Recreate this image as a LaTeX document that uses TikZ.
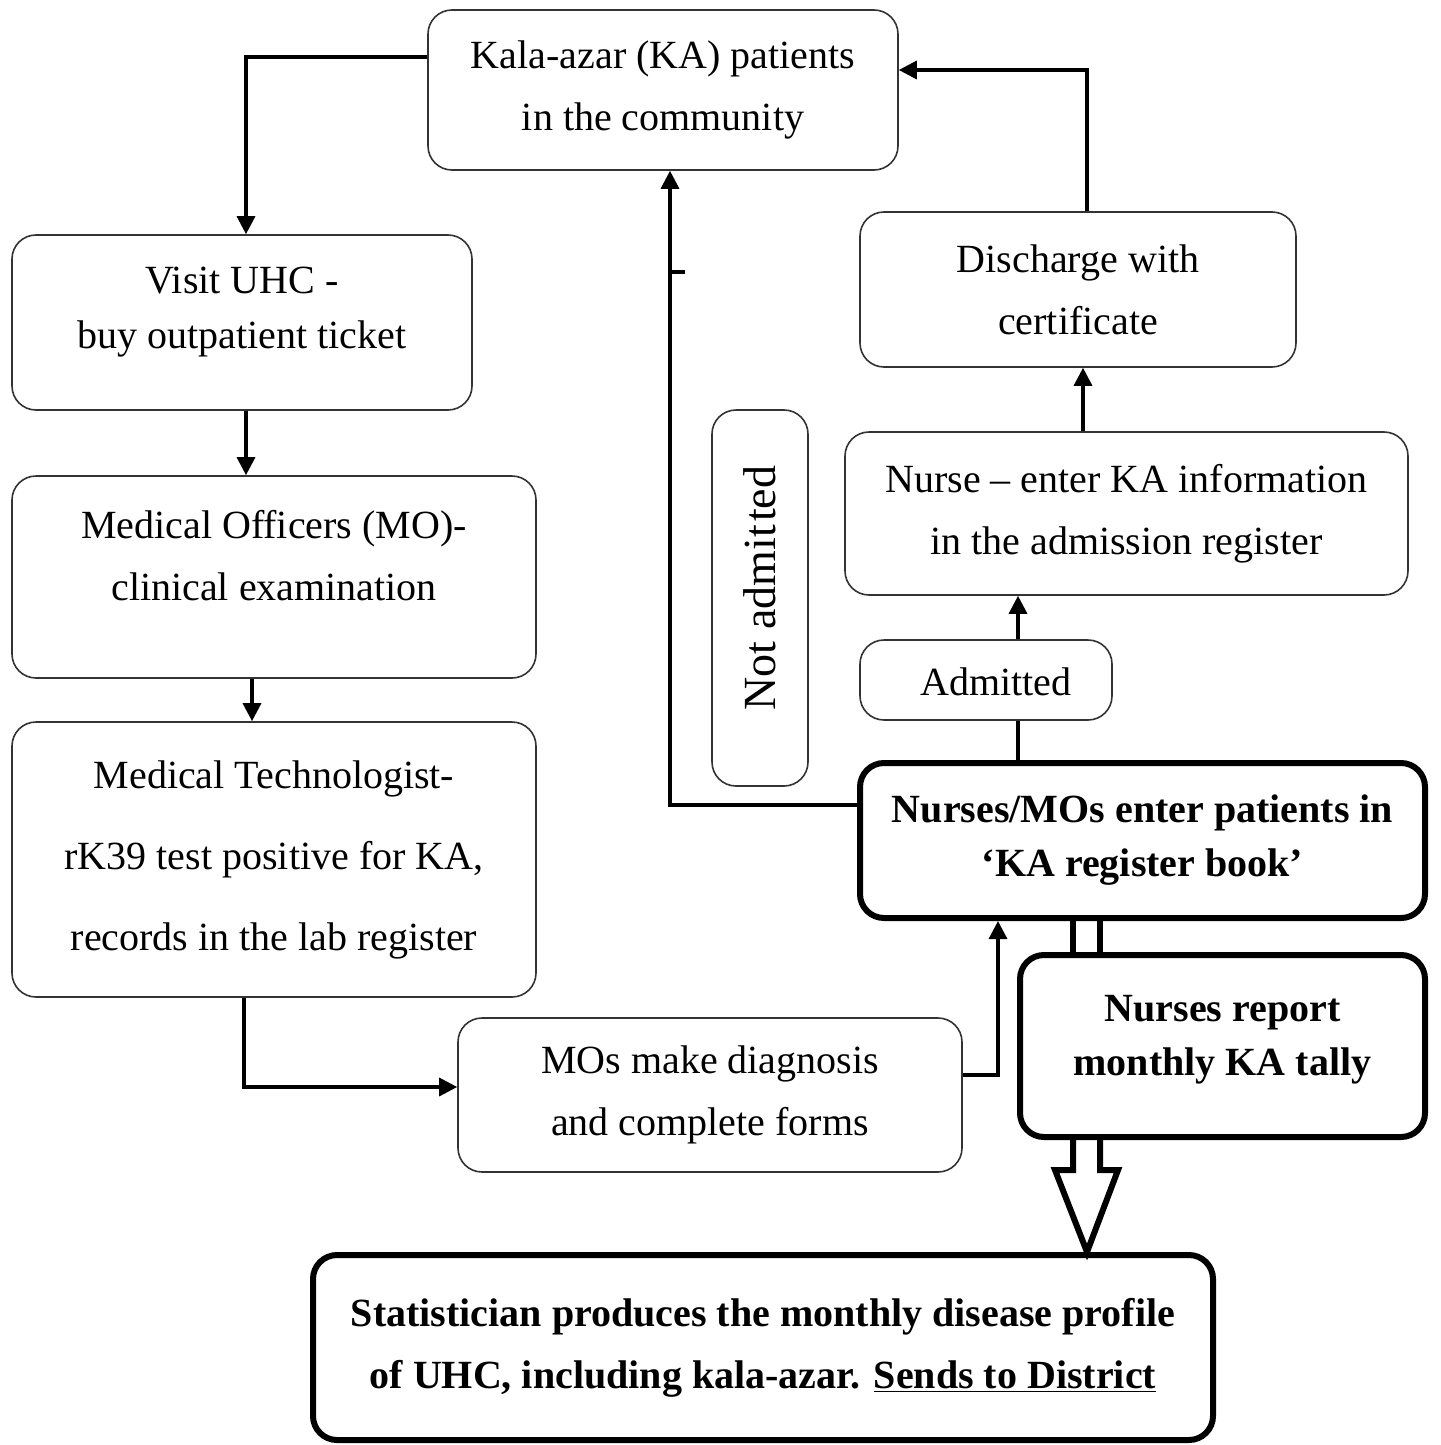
\documentclass[tikz,border=0pt]{standalone}
\usepackage{fontspec}
\setmainfont{Liberation Serif}
\usetikzlibrary{arrows.meta}
\tikzset{
  box/.style={draw=black!80, line width=0.8pt, rounded corners=12pt, align=center, inner sep=0pt,
    font=\fontsize{20}{31}\selectfont},
  txt/.style={align=center, inner sep=0pt, font=\fontsize{20}{31}\selectfont},
  tbox/.style={draw=black, line width=3pt, rounded corners=12pt, align=center, inner sep=0pt,
    font=\fontsize{20}{27}\selectfont\bfseries},
  conn/.style={line width=1.6pt, -{Triangle[length=9pt,width=9pt]}},
  plain/.style={line width=1.6pt},
  dbl/.style={line width=3pt},
}
\begin{document}
\begin{tikzpicture}[x=0.5pt,y=-0.5pt]
\useasboundingbox (0,0) rectangle (1440,1445);
\node[box, minimum width=235pt, minimum height=80pt] (comm) at (663,90) {Kala-azar (KA) patients\\in the community};
\node[box, minimum width=230pt, minimum height=87.5pt] (visit) at (242,322.5) {};
\node[txt, font=\fontsize{20}{27.5}\selectfont] (visitT) at (242,312) {Visit UHC -\\buy outpatient ticket};
\node[box, minimum width=262pt, minimum height=101pt] (mo) at (274,577) {};
\node[txt] (moT) at (274,556) {Medical Officers (MO)-\\clinical examination};
\node[box, minimum width=262pt, minimum height=137.5pt, font=\fontsize{20}{40.5}\selectfont] (tech) at (274,859.5) {Medical Technologist-\\rK39 test positive for KA,\\records in the lab register};
\node[box, minimum width=252pt, minimum height=77pt] (diag) at (710,1095) {MOs make diagnosis\\and complete forms};
\node[tbox, minimum width=282.5pt, minimum height=77.5pt] (enter) at (1142.5,840.5) {Nurses/MOs enter patients in\\`KA register book'};
\node[tbox, minimum width=202.5pt, minimum height=91pt] (report) at (1222.5,1046) {};
\node[txt, font=\fontsize{20}{27}\selectfont\bfseries] (reportT) at (1222.5,1040) {Nurses report\\monthly KA tally};
\node[tbox, minimum width=450pt, minimum height=92.5pt, font=\fontsize{20}{31}\selectfont\bfseries] (stat) at (763,1347.5) {Statistician produces the monthly disease profile\\of UHC, including kala-azar. \underline{Sends to District}};
\node[box, minimum width=218pt, minimum height=77.5pt] (disch) at (1078,289.5) {Discharge with\\certificate};
\node[box, minimum width=281.5pt, minimum height=81.5pt] (nurse) at (1126.5,513.5) {Nurse -- enter KA information\\in the admission register};
\node[box, minimum width=126pt, minimum height=40pt] (adm) at (986,680) {};
\node[txt] (admT) at (996,682) {Admit\kern0pt ted};
\node[box, minimum width=48pt, minimum height=188pt] (notadm) at (760,598) {};
\node[rotate=90, txt, font=\fontsize{23}{28}\selectfont] (notadmtxt) at (760,588) {Not admit\kern1.5pt ted};

\draw[conn] (comm.west |- 0,57) -| (visit.north -| 246,0);
\draw[conn] (visit.south -| 246,0) -- (mo.north -| 246,0);
\draw[conn] (mo.south -| 252,0) -- (tech.north -| 252,0);
\draw[conn] (tech.south -| 244,0) |- (diag.west |- 0,1087);
\draw[conn] (diag.east |- 0,1075) -| (enter.south -| 998,0);
\draw[conn] (enter.west |- 0,805) -| (comm.south -| 670,0);
\coordinate (tickA) at (670,272);
\coordinate (tickB) at (685,272);
\draw[plain] (tickA) -- (tickB);
\draw[plain] (enter.north -| 1018,0) -- (adm.south -| 1018,0);
\draw[conn] (adm.north -| 1018,0) -- (nurse.south -| 1018,0);
\draw[conn] (nurse.north -| 1083,0) -- (disch.south -| 1083,0);
\draw[conn] (disch.north -| 1087,0) |- (comm.east |- 0,70);

\draw[dbl] (enter.south -| 1073,0) -- (report.north -| 1073,0);
\draw[dbl] (enter.south -| 1100,0) -- (report.north -| 1100,0);
\draw[dbl, line join=miter] (report.south -| 1073,0) -- (1073,1170) -- (1055,1170) -- (stat.north -| 1087,0) -- (1118,1170) -- (1100,1170) -- (report.south -| 1100,0);
\end{tikzpicture}
\end{document}
